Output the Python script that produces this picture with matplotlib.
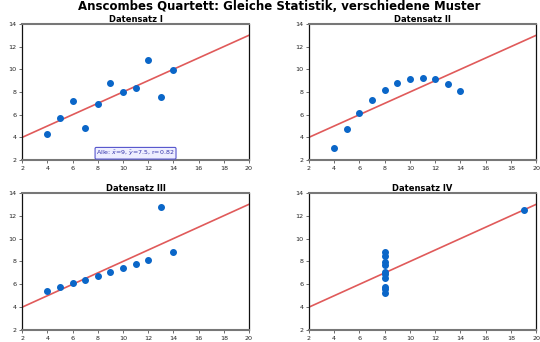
import numpy as np
import matplotlib.pyplot as plt

# Anscombe's quartet
x_123 = [10, 8, 13, 9, 11, 14, 6, 4, 12, 7, 5]
y1 = [8.04, 6.95, 7.58, 8.81, 8.33, 9.96, 7.24, 4.26, 10.84, 4.82, 5.68]
y2 = [9.14, 8.14, 8.74, 8.77, 9.26, 8.10, 6.13, 3.10, 9.13, 7.26, 4.74]
y3 = [7.46, 6.77, 12.74, 7.11, 7.81, 8.84, 6.08, 5.39, 8.15, 6.42, 5.73]
x4 = [8, 8, 8, 8, 8, 8, 8, 19, 8, 8, 8]
y4 = [6.58, 5.76, 7.71, 8.84, 8.47, 7.04, 5.25, 12.50, 5.56, 7.91, 6.89]

titles = ['Datensatz I', 'Datensatz II', 'Datensatz III', 'Datensatz IV']
datasets = [(x_123, y1), (x_123, y2), (x_123, y3), (x4, y4)]

fig = plt.figure(figsize=(5.4, 3.42), dpi=100)
boxes = [
    [0.041, 0.532, 0.420, 0.398],
    [0.572, 0.532, 0.421, 0.398],
    [0.041, 0.035, 0.420, 0.401],
    [0.572, 0.035, 0.421, 0.401],
]

xfit = np.array([2, 20])
for box, title, (x, y) in zip(boxes, titles, datasets):
    ax = fig.add_axes(box)
    ax.plot(xfit, 3 + 0.5 * xfit, color='#e05a5a', lw=1.2, zorder=1)
    ax.scatter(x, y, s=16, color='#0a66c8', zorder=2)
    ax.set_xlim(2, 20)
    ax.set_ylim(2, 14)
    ax.set_xticks(range(2, 21, 2))
    ax.set_yticks(range(2, 15, 2))
    ax.tick_params(labelsize=4.6, length=2.5, width=0.6, pad=1.5,
                   color='#555555', labelcolor='#222222')
    for side in ['top', 'bottom']:
        ax.spines[side].set_linewidth(1.5)
        ax.spines[side].set_color('#777777')
    for side in ['left', 'right']:
        ax.spines[side].set_linewidth(0.9)
        ax.spines[side].set_color('#111111')
    ax.set_title(title, fontsize=6, fontweight='bold', pad=1)
    if title == 'Datensatz I':
        ax.text(11, 2.6, 'Alle: $\\bar{x}$=9, $\\bar{y}$=7.5, r=0.82',
                fontsize=4.5, color='#3333aa', ha='center', va='center',
                bbox=dict(boxstyle='round,pad=0.2', fc='#eeeeff', ec='#5555cc', lw=0.8))

fig.suptitle('Anscombes Quartett: Gleiche Statistik, verschiedene Muster',
             fontsize=8.5, fontweight='bold', x=0.518, y=0.999)

fig.savefig('out.png', dpi=100)
